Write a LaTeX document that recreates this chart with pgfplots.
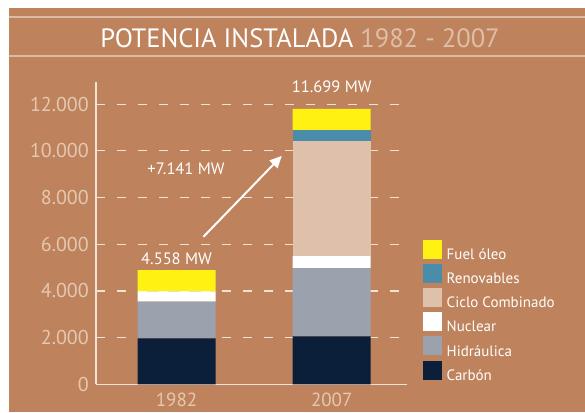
\documentclass[border=0pt]{standalone}
\usepackage{fontspec}
\setmainfont{PT Sans}
\usepackage{pgfplots}
\pgfplotsset{compat=1.18}
\usetikzlibrary{arrows.meta}
\definecolor{bg}{HTML}{BE835C}
\definecolor{titleline}{HTML}{DDBBA3}
\definecolor{titletan}{HTML}{DEBEA8}
\definecolor{ticktan}{HTML}{E4C8B2}
\definecolor{axisc}{HTML}{F2E2D6}
\definecolor{carbon}{HTML}{0B1F3A}
\definecolor{hidra}{HTML}{9BA2AD}
\definecolor{nuclear}{HTML}{FFFFFF}
\definecolor{ciclo}{HTML}{DEC0AB}
\definecolor{renov}{HTML}{4A8DAA}
\definecolor{fuel}{HTML}{FFF112}
\begin{document}
\begin{tikzpicture}[x=1pt,y=1pt]
\path[use as bounding box, fill=white] (0,0) rectangle (585,412);
\fill[bg] (9,0) rectangle (585,404);
\draw[titleline, line width=1.5pt] (9,395) -- (585,395);
\draw[titleline, line width=1.5pt] (9,356) -- (585,356);
\node[anchor=base, inner sep=0pt, font=\fontsize{26.5}{30}\selectfont] at (300,364.7)
  {\textcolor{white}{POTENCIA INSTALADA} \textcolor{titletan}{1982 - 2007}};
\begin{axis}[
  at={(96pt,27.7pt)}, anchor=south west,
  scale only axis, width=311pt, height=302.3pt,
  xmin=-0.519, xmax=1.485, ymin=0, ymax=12950,
  clip=false,
  axis x line=bottom, axis y line=left,
  axis line style={-, draw=axisc, line width=1.2pt},
  xtick={0,1}, xticklabels={1982,2007},
  ytick={0,2000,4000,6000,8000,10000,12000},
  major tick length=0pt,
  scaled y ticks=false,
  /pgf/number format/1000 sep={.},
  /pgf/number format/assume math mode=true,
  ymajorgrids,
  grid style={draw=axisc, line width=1.2pt, dash pattern=on 9pt off 12pt},
  y tick label style={text=ticktan, anchor=east, inner sep=0pt, xshift=-7pt,
    font=\fontsize{20}{24}\selectfont},
  x tick label style={text=ticktan, anchor=north, inner sep=0pt, yshift=-8.5pt,
    font=\fontsize{19}{22}\selectfont},
  ybar stacked, bar width=78pt,
  reverse legend,
  legend cell align=left,
  legend style={at={(1.0514,0.4773)}, anchor=north west, draw=none, fill=none,
    inner sep=0pt, outer sep=0pt, row sep=3pt, column sep=4.7pt, text=white,
    font=\fontsize{15}{18}\selectfont,
    nodes={inner sep=0pt}},
  area legend,
  legend image code/.code={\fill[#1] (0pt,-4pt) rectangle (19pt,15pt);},
]
\addplot[fill=carbon, draw=none] coordinates {(0,1965) (1,2050)};
\addplot[fill=hidra, draw=none] coordinates {(0,1580) (1,2930)};
\addplot[fill=nuclear, draw=none] coordinates {(0,440) (1,510)};
\addplot[fill=ciclo, draw=none] coordinates {(0,0) (1,4950)};
\addplot[fill=renov, draw=none] coordinates {(0,0) (1,460)};
\addplot[fill=fuel, draw=none] coordinates {(0,910) (1,900)};
\legend{Carbón,Hidráulica,Nuclear,Ciclo Combinado,Renovables,Fuel óleo}
\node[anchor=base, text=white, inner sep=0pt, font=\fontsize{16.5}{18}\selectfont] at (axis cs:0,5137) {4.558 MW};
\node[anchor=base, text=white, inner sep=0pt, font=\fontsize{16.5}{18}\selectfont] at (axis cs:1,12480) {11.699 MW};
\node[anchor=base, text=white, inner sep=0pt, font=\fontsize{16.5}{18}\selectfont] at (axis cs:0.061,8973) {+7.141 MW};
\draw[white, line width=2pt, -{Triangle[length=12pt,width=11pt]}] (axis cs:0.173,6318) -- (axis cs:0.678,9786);
\end{axis}
\end{tikzpicture}
\end{document}
